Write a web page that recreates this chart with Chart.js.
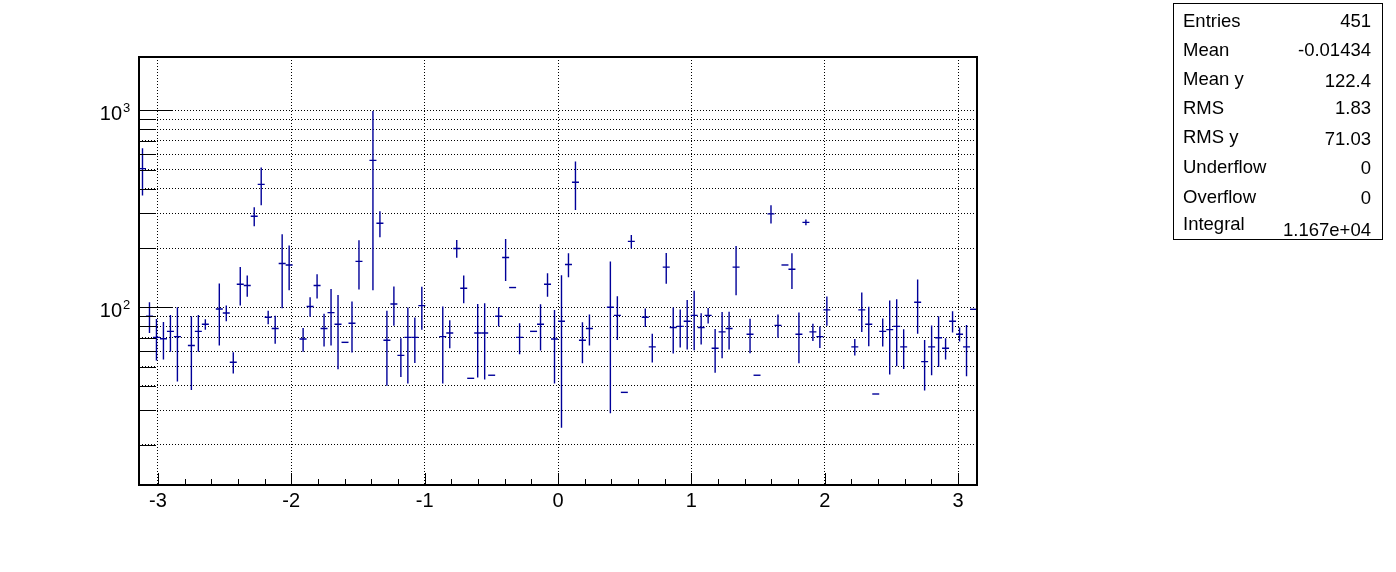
<!DOCTYPE html>
<html>
<head>
<meta charset="utf-8">
<script src="https://cdn.jsdelivr.net/npm/chart.js@4.4.0/dist/chart.umd.min.js"></script>
<style>
  body { margin: 0; background: #fff; }
  canvas { display: block; }
</style>
</head>
<body>
<canvas id="myChart" width="1396" height="572"></canvas>
<script>
'use strict';

// histogram binning
const nBins = 120;
const xLow = -Math.PI;
const xHigh = Math.PI;

// bin contents (null = empty bin) and their errors
const binValues = [
  506, 90, 70.4, 69.3, 75.5, 71, null, 64, 75.5, 82,
  null, 98, 93.6, 52.6, 131, 129, 290, 421, 89, 78,
  167, 164, null, 69, 101, 129, 78, 94, 82, 66.4,
  83, 171, null, 557, 267, 68, 104, 57, 70.4, 70.4,
  102, null, null, 71, 74, 199, 125, 43.6, 74, 74,
  45.2, 90, 179, 126, 70.4, null, 75.5, 82, 131, 69,
  85, 165, 431, 68, 78, null, null, 100, 91, 37,
  216, null, 89, 63, null, 160, 79, 80, 85, 91,
  79, 91, 62, 75, 78, 160, null, 73, 45.2, null,
  298, 81, 164, 156, 73, 270, 75, 71, 97, null,
  null, null, 63, 97, 82, 36.3, 75.5, 77, 80, 63,
  null, 106, 53, 63, 70, 62, 85, 73, 63, 97.7
];
const binErrors = [
  136, 16, 16.7, 15, 16, 29, 0, 26, 16, 5,
  0, 34, 8.6, 6.5, 29, 16, 32, 91, 7, 12.6,
  68, 42, 0, 9.5, 11.5, 18, 14.7, 30, 33.5, 0,
  24, 48, 0, 435, 40, 28, 23.5, 12.7, 29.3, 18.3,
  25, 0, 0, 30, 12, 20.5, 20, 0, 30, 31,
  0, 10, 43, 0, 12.6, 0, 0, 21.7, 18, 28,
  60.5, 23, 119, 16, 14, 0, 0, 71, 22.7, 0,
  17, 0, 9.6, 10.5, 0, 28.4, 20.8, 17.5, 24, 30.4,
  14.2, 8.2, 15.5, 19.8, 17, 45, 0, 14.5, 0, 0,
  32, 11, 0, 32, 21, 9, 7.5, 8.9, 16.5, 0,
  0, 0, 6, 22, 18.6, 0, 12.2, 31.4, 29.8, 14.4,
  0, 32.5, 15.2, 17.8, 20.2, 7.7, 10.6, 6, 18.3, 0
];

const xTickValues = [-3, -2, -1, 0, 1, 2, 3];
const yTickValues = [20, 30, 40, 50, 60, 70, 80, 90, 100, 200, 300, 400, 500, 600, 700, 800, 900, 1000];
const yTickExponents = { 100: '2', 1000: '3' };
const yMin = 12.53;
const yMax = 1865;

const statNames = ['Entries', 'Mean', 'Mean y', 'RMS', 'RMS y', 'Underflow', 'Overflow', 'Integral'];
const statValues = ['451', '-0.01434', '122.4', '1.83', '71.03', '0', '0', '1.167e+04'];

const lineColor = '#000099';
const fontFamily = '"Liberation Sans", Arial, sans-serif';
const binWidth = (xHigh - xLow) / nBins;

let points = [];
for (let i = 0; i < nBins; i++) {
  if (binValues[i] === null) continue;
  points.push({ x: xLow + (i + 0.5) * binWidth, y: binValues[i], err: binErrors[i] });
}

const errorBars = {
  id: 'errorBars',
  afterDatasetsDraw(chart) {
    const ctx = chart.ctx;
    const xs = chart.scales.x;
    const ys = chart.scales.y;
    ctx.save();
    ctx.strokeStyle = lineColor;
    ctx.lineWidth = 1.4;
    chart.data.datasets[0].data.forEach(p => {
      const yc = ys.getPixelForValue(p.y);
      ctx.beginPath();
      ctx.moveTo(xs.getPixelForValue(p.x - binWidth / 2), yc);
      ctx.lineTo(xs.getPixelForValue(p.x + binWidth / 2), yc);
      if (p.err > 0) {
        const xc = xs.getPixelForValue(p.x);
        ctx.moveTo(xc, ys.getPixelForValue(p.y + p.err));
        ctx.lineTo(xc, ys.getPixelForValue(Math.max(p.y - p.err, yMin)));
      }
      ctx.stroke();
    });
    ctx.restore();
  }
};

const frameAndStats = {
  id: 'frameAndStats',
  afterDraw(chart) {
    const ctx = chart.ctx;
    const a = chart.chartArea;
    const xs = chart.scales.x;
    const ys = chart.scales.y;
    ctx.save();
    ctx.strokeStyle = '#000';
    ctx.fillStyle = '#000';
    ctx.lineWidth = 1;

    // ticks inside the frame (ROOT style)
    ctx.beginPath();
    yTickValues.forEach(v => {
      const yp = Math.round(ys.getPixelForValue(v)) + 0.5;
      const len = yTickExponents[v] ? 33 : 17;
      ctx.moveTo(a.left, yp);
      ctx.lineTo(a.left + len, yp);
    });
    for (let k = 0; k < xTickValues.length; k++) {
      for (let s = 0; s < 5; s++) {
        if (k === xTickValues.length - 1 && s > 0) break;
        const v = xTickValues[k] + s * 0.2;
        const xp = Math.round(xs.getPixelForValue(v)) + 0.5;
        const len = s === 0 ? 12 : 6;
        ctx.moveTo(xp, a.bottom);
        ctx.lineTo(xp, a.bottom - len);
      }
    }
    ctx.stroke();

    // log axis labels: 10 with a raised exponent
    Object.keys(yTickExponents).forEach(v => {
      const yp = ys.getPixelForValue(Number(v));
      ctx.font = '20px ' + fontFamily;
      ctx.textAlign = 'right';
      ctx.fillText('10', 122, yp + 10);
      ctx.font = '13px ' + fontFamily;
      ctx.textAlign = 'left';
      ctx.fillText(yTickExponents[v], 123, yp + 2);
    });

    // frame
    ctx.lineWidth = 2;
    ctx.strokeRect(a.left, a.top, a.right - a.left, a.bottom - a.top);

    // stats box
    ctx.lineWidth = 1;
    ctx.fillStyle = '#fff';
    ctx.fillRect(1173.5, 3.5, 209, 236);
    ctx.strokeRect(1173.5, 3.5, 209, 236);
    ctx.fillStyle = '#000';
    ctx.font = '18.5px ' + fontFamily;
    const labelBase = [27, 56, 85, 114, 143, 173, 203, 230];
    const valueBase = [27, 56, 87, 114, 145, 174, 204, 236];
    for (let i = 0; i < statNames.length; i++) {
      ctx.textAlign = 'left';
      ctx.fillText(statNames[i], 1183, labelBase[i]);
      ctx.textAlign = 'right';
      ctx.fillText(statValues[i], 1371, valueBase[i]);
    }
    ctx.restore();
  }
};

const ctx = document.getElementById('myChart').getContext('2d');
const myChart = new Chart(ctx, {
  type: 'scatter',
  data: {
    datasets: [{
      data: points,
      pointRadius: 0,
      showLine: false
    }]
  },
  options: {
    responsive: false,
    animation: false,
    devicePixelRatio: 1,
    layout: { padding: { left: 0, top: 57, right: 419, bottom: 0 } },
    plugins: { legend: { display: false }, tooltip: { enabled: false } },
    scales: {
      x: {
        type: 'linear',
        min: xLow,
        max: xHigh,
        bounds: 'data',
        afterBuildTicks: scale => { scale.ticks = xTickValues.map(v => ({ value: v })); },
        afterFit: scale => { scale.height = 87; },
        grid: { color: '#000', lineWidth: 1, drawTicks: false },
        border: { display: false, dash: [1, 2] },
        ticks: {
          autoSkip: false,
          maxRotation: 0,
          padding: 4,
          color: '#000',
          font: { family: fontFamily, size: 20 },
          callback: v => String(v)
        }
      },
      y: {
        type: 'logarithmic',
        min: yMin,
        max: yMax,
        bounds: 'data',
        afterBuildTicks: scale => { scale.ticks = yTickValues.map(v => ({ value: v })); },
        afterFit: scale => { scale.width = 139; },
        grid: { color: '#000', lineWidth: 1, drawTicks: false },
        border: { display: false, dash: [1, 2] },
        ticks: {
          autoSkip: false,
          callback: () => ''
        }
      }
    }
  },
  plugins: [errorBars, frameAndStats]
});
</script>
</body>
</html>
